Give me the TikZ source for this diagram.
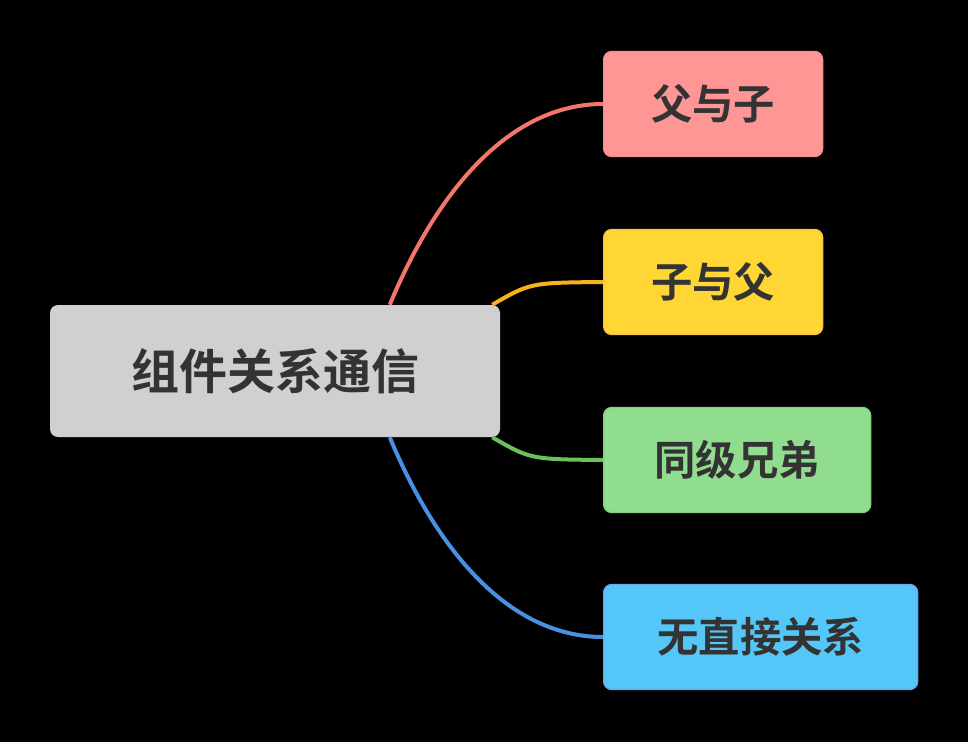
\documentclass[tikz,border=0pt]{standalone}
\usepackage{fontspec}
\newfontfamily\cjk{Noto Sans CJK SC Bold}
\usetikzlibrary{calc,positioning}
\definecolor{txtgray}{HTML}{333333}
\definecolor{rootfill}{HTML}{D0D0D0}
\definecolor{redfill}{HTML}{FF9696}
\definecolor{redline}{HTML}{F4756A}
\definecolor{yelfill}{HTML}{FFD633}
\definecolor{yelline}{HTML}{F6B21C}
\definecolor{grnfill}{HTML}{90DD90}
\definecolor{grnline}{HTML}{6CC25A}
\definecolor{blufill}{HTML}{55C6F8}
\definecolor{bluline}{HTML}{4A90E2}
\begin{document}
\begin{tikzpicture}[
    x=0.75pt, y=-0.75pt,
    rootbox/.style={rectangle, rounded corners=6pt, fill=rootfill, text=txtgray,
        minimum width=450*0.75pt, minimum height=132*0.75pt, font=\cjk\fontsize{36}{40}\selectfont},
    leaf/.style={rectangle, rounded corners=6pt, line width=1pt, text=txtgray,
        minimum height=105*0.75pt, anchor=west, font=\cjk\fontsize{31}{36}\selectfont},
    link/.style={line width=3pt}]
\fill[black] (0,0) rectangle (968,742);
\useasboundingbox (0,0) rectangle (968,742);
% root and leaves
\node[rootbox] (root) at (275,371) {组件关系通信};
\node[leaf, fill=redfill, draw=redline!80, minimum width=219*0.75pt] (p2c) at (603,104) {父与子};
\node[leaf, fill=yelfill, draw=yelline!80, minimum width=219*0.75pt] (c2p) at (603,282) {子与父};
\node[leaf, fill=grnfill, draw=grnline!80, minimum width=267*0.75pt] (sib) at (603,460) {同级兄弟};
\node[leaf, fill=blufill, draw=bluline!80, minimum width=314*0.75pt] (none) at (603,637) {无直接关系};
% links
\draw[link, redline] ($(root.north west)+(340,0)$) .. controls ($(root.north west)+(390,-120)$) and ($(p2c.west)+(-90,0)$) .. (p2c.west);
\draw[link, yelline] ($(root.north east)+(-8,0)$) .. controls ($(root.north east)+(30,-22)$) .. (c2p.west);
\draw[link, grnline] ($(root.south east)+(-8,0)$) .. controls ($(root.south east)+(30,22)$) .. (sib.west);
\draw[link, bluline] ($(root.south west)+(340,0)$) .. controls ($(root.south west)+(390,120)$) and ($(none.west)+(-90,0)$) .. (none.west);
\end{tikzpicture}
\end{document}
